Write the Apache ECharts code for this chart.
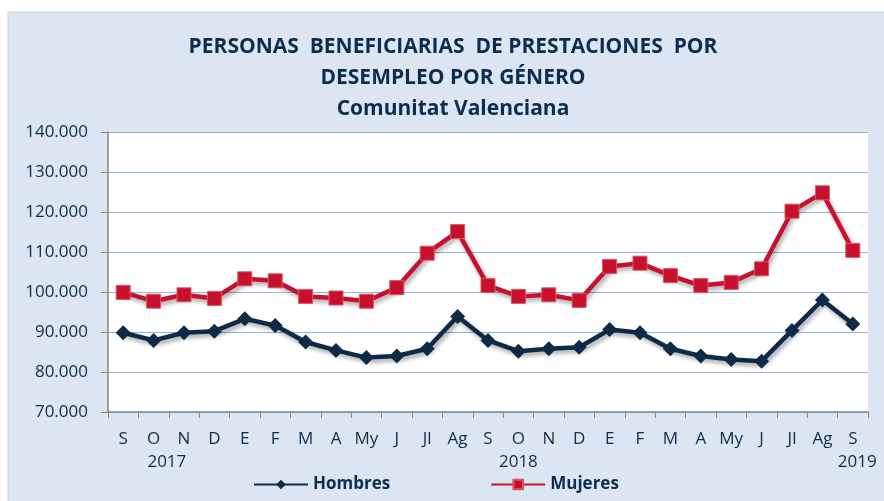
<!DOCTYPE html>
<html>
<head>
<meta charset="utf-8">
<script src="https://cdn.jsdelivr.net/npm/echarts@6/dist/echarts.min.js"></script>
<style>
  html, body { margin: 0; padding: 0; background: #fff; }
  #chart { width: 884px; height: 501px; }
</style>
</head>
<body>
<div id="chart"></div>
<script>
// months Sep 2017 -> Sep 2019
var months = ["S", "O", "N", "D", "E", "F", "M", "A", "My", "J", "Jl", "Ag",
              "S", "O", "N", "D", "E", "F", "M", "A", "My", "J", "Jl", "Ag", "S"];
var years = {1: "      2017", 13: "2018", 24: "  2019"};

var hombres = [89800, 87900, 89800, 90200, 93300, 91600, 87500, 85400, 83600, 84000, 85800, 93900,
               87900, 85200, 85800, 86200, 90600, 89800, 85800, 84000, 83100, 82700, 90400, 98000, 92000];
var mujeres = [99900, 97700, 99300, 98400, 103300, 102800, 98900, 98500, 97700, 101100, 109700, 115100,
               101600, 98900, 99300, 97900, 106400, 107200, 104100, 101600, 102400, 105800, 120200, 124800, 110400];

var yTicks = { min: 70000, max: 140000, step: 10000 };

var navy = "#0e2a47";
var red = "#c8102e";
var txt = "#0f2c4c";

var dom = document.getElementById("chart");
var myChart = echarts.init(dom);
var option;

function fmt(v) {
  return String(v).replace(/\B(?=(\d{3})+(?!\d))/g, ".");
}

option = {
  animation: false,
  backgroundColor: "#ffffff",
  textStyle: { fontFamily: "Open Sans, sans-serif" },
  graphic: [{
    type: "rect",
    z: -10,
    shape: { x: 8, y: 12, width: 884, height: 501 },
    style: { fill: "#dce6f2", stroke: "#d0d0d0", lineWidth: 1 }
  }],
  title: {
    text: "PERSONAS  BENEFICIARIAS  DE PRESTACIONES  POR\nDESEMPLEO POR GÉNERO",
    subtext: "Comunitat Valenciana",
    left: 448,
    textAlign: "center",
    top: 27,
    itemGap: 5,
    textStyle: { fontSize: 21, fontWeight: "bold", color: txt, lineHeight: 31 },
    subtextStyle: { fontSize: 21, fontWeight: "bold", color: txt }
  },
  legend: {
    bottom: 3,
    left: 248,
    itemGap: 100,
    itemWidth: 54,
    itemHeight: 12,
    textStyle: { fontSize: 17, fontWeight: "bold", color: txt },
    data: ["Hombres", "Mujeres"]
  },
  grid: {
    left: 108, right: 16, top: 132, bottom: 89,
    show: true, backgroundColor: "#ffffff", borderWidth: 0
  },
  xAxis: {
    type: "category",
    data: months,
    boundaryGap: true,
    axisLine: { lineStyle: { color: "#868686", width: 1.5 } },
    axisTick: { show: true, length: 6, lineStyle: { color: "#868686" } },
    axisLabel: {
      interval: 0,
      margin: 16,
      fontSize: 17,
      color: txt,
      lineHeight: 23,
      formatter: function (v, i) {
        return years[i] ? v + "\n" + years[i] : v;
      }
    }
  },
  yAxis: {
    type: "value",
    min: yTicks.min,
    max: yTicks.max,
    interval: yTicks.step,
    axisLine: { show: true, lineStyle: { color: "#868686", width: 1.5 } },
    axisTick: { show: true, length: 7, lineStyle: { color: "#868686" } },
    splitLine: { lineStyle: { color: "#95b3d7", width: 1.2 } },
    axisLabel: {
      margin: 20,
      fontSize: 17,
      color: txt,
      formatter: fmt
    }
  },
  series: [
    {
      name: "Hombres",
      type: "line",
      data: hombres,
      symbol: "diamond",
      symbolSize: 15,
      itemStyle: { color: navy },
      lineStyle: { color: navy, width: 4.5, shadowColor: "rgba(0,0,0,0.35)", shadowBlur: 4, shadowOffsetX: 2, shadowOffsetY: 3 }
    },
    {
      name: "Mujeres",
      type: "line",
      data: mujeres,
      symbol: "rect",
      symbolSize: 14,
      itemStyle: { color: red, borderColor: "#d9555f", borderWidth: 1 },
      lineStyle: { color: red, width: 4.5, shadowColor: "rgba(0,0,0,0.35)", shadowBlur: 4, shadowOffsetX: 2, shadowOffsetY: 3 }
    }
  ]
};

if (option && typeof option === "object") {
  myChart.setOption(option);
}
</script>
</body>
</html>
